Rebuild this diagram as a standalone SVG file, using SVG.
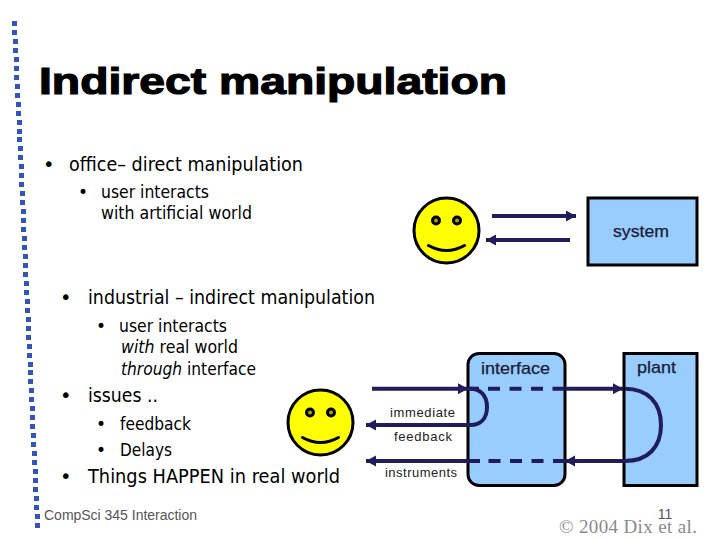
<svg xmlns="http://www.w3.org/2000/svg" width="720" height="540" viewBox="0 0 720 540">
<style>
text{font-family:"DejaVu Sans","Liberation Sans",sans-serif;fill:#000}
.t1{font-size:19.5px}
.t2{font-size:17px}
.lab{font-family:"Liberation Sans",Arial,sans-serif;fill:#1a1a33;stroke:#1a1a33;stroke-width:.25}
.small{font-family:"Liberation Sans",Arial,sans-serif;font-size:13px;fill:#222}
.box{fill:#99ccff;stroke:#000;stroke-width:3}
.face{fill:#ffff00;stroke:#000;stroke-width:3}
.eye{fill:#b0a000;stroke:#000;stroke-width:3}
.smile{fill:none;stroke:#000;stroke-width:3;stroke-linecap:round}
.c{fill:none;stroke:#211c5c;stroke-width:4}
.d{stroke-dasharray:12 9.5}
.a{marker-end:url(#ah)}
</style>
<defs>
<marker id="ah" markerUnits="userSpaceOnUse" markerWidth="12" markerHeight="12" refX="10" refY="5.5" orient="auto"><path d="M0 0L10 5.5L0 11Z" fill="#211c5c"/></marker>
<g id="smiley"><circle class="face" r="32.5"/><circle class="eye" cx="-10.500" cy="-10" r="3.500"/><circle class="eye" cx="10.500" cy="-10" r="3.500"/><path class="smile" d="M-18 15Q0 25 18 15"/></g>
</defs>
<rect width="720" height="540" fill="#fff"/>
<path fill="#3355bb" d="M12 21h5v5h-5zM12 30h5v5h-5zM13 39h5v5h-5zM13 48h5v5h-5zM14 57h5v5h-5zM14 66h5v5h-5zM14 75h5v5h-5zM15 84h5v5h-5zM15 93h5v5h-5zM16 102h5v5h-5zM16 111h5v5h-5zM17 120h5v5h-5zM17 129h5v5h-5zM17 137h5v5h-5zM18 146h5v5h-5zM18 155h5v5h-5zM19 164h5v5h-5zM19 173h5v5h-5zM19 182h5v5h-5zM20 191h5v5h-5zM20 200h5v5h-5zM21 209h5v5h-5zM21 218h5v5h-5zM21 227h5v5h-5zM22 236h5v5h-5zM22 245h5v5h-5zM23 254h5v5h-5zM23 263h5v5h-5zM23 272h5v5h-5zM24 281h5v5h-5zM24 290h5v5h-5zM25 299h5v5h-5zM25 308h5v5h-5zM26 317h5v5h-5zM26 326h5v5h-5zM26 335h5v5h-5zM27 344h5v5h-5zM27 353h5v5h-5zM28 362h5v5h-5zM28 370h5v5h-5zM28 379h5v5h-5zM29 388h5v5h-5zM29 397h5v5h-5zM30 406h5v5h-5zM30 415h5v5h-5zM30 424h5v5h-5zM31 433h5v5h-5zM31 442h5v5h-5zM32 451h5v5h-5zM32 460h5v5h-5zM33 469h5v5h-5zM33 478h5v5h-5zM33 487h5v5h-5zM34 496h5v5h-5zM34 505h5v5h-5zM35 514h5v5h-5zM35 523h5v5h-5z"/>
<text x="39" y="94" font-size="37" font-weight="bold" stroke="#000" stroke-width="1.200" textLength="468" lengthAdjust="spacingAndGlyphs" style="font-family:'Liberation Sans',Arial,sans-serif">Indirect manipulation</text>
<g id="bullets">
<text class="t1" x="43" y="171">•</text><text class="t1" x="69" y="171" textLength="234" lengthAdjust="spacingAndGlyphs">office– direct manipulation</text>
<text class="t2" x="78" y="198">•</text><text class="t2" x="101" y="198" textLength="108" lengthAdjust="spacingAndGlyphs">user interacts</text>
<text class="t2" x="101" y="219" textLength="151" lengthAdjust="spacingAndGlyphs">with artificial world</text>
<text class="t1" x="60" y="304">•</text><text class="t1" x="88" y="304" textLength="287" lengthAdjust="spacingAndGlyphs">industrial – indirect manipulation</text>
<text class="t2" x="96" y="332">•</text><text class="t2" x="119" y="332" textLength="108" lengthAdjust="spacingAndGlyphs">user interacts</text>
<text class="t2" x="121" y="353" textLength="117" lengthAdjust="spacingAndGlyphs"><tspan font-style="italic">with</tspan> real world</text>
<text class="t2" x="121" y="375" textLength="135" lengthAdjust="spacingAndGlyphs"><tspan font-style="italic">through</tspan> interface</text>
<text class="t1" x="60" y="402">•</text><text class="t1" x="88" y="402" textLength="70" lengthAdjust="spacingAndGlyphs">issues ..</text>
<text class="t2" x="96" y="430">•</text><text class="t2" x="120" y="430" textLength="71" lengthAdjust="spacingAndGlyphs">feedback</text>
<text class="t2" x="96" y="456">•</text><text class="t2" x="120" y="456" textLength="52" lengthAdjust="spacingAndGlyphs">Delays</text>
<text class="t1" x="60" y="483">•</text><text class="t1" x="88" y="483" textLength="252" lengthAdjust="spacingAndGlyphs">Things HAPPEN in real world</text>
</g>
<g id="user1"><use href="#smiley" x="446.500" y="230.500"/></g>
<g id="user2"><use href="#smiley" x="320.500" y="422.500"/></g>
<g id="system"><rect class="box" x="588" y="198" width="109" height="67"/><text class="lab" x="613" y="237" font-size="17" textLength="56" lengthAdjust="spacingAndGlyphs">system</text></g>
<g id="interface"><rect class="box" x="468" y="353.500" width="97" height="132" rx="11"/><text class="lab" x="481" y="374" font-size="17" textLength="69" lengthAdjust="spacingAndGlyphs">interface</text></g>
<g id="plant"><rect class="box" x="624" y="353.500" width="73" height="132"/><text class="lab" x="637" y="373" font-size="17" textLength="39" lengthAdjust="spacingAndGlyphs">plant</text></g>
<g id="connectors">
<path class="c a" d="M492 216H576"/>
<path class="c a" d="M570 240H486"/>
<path class="c a" d="M372 388.700H468"/>
<path class="c" d="M468 388.700H479"/>
<path class="c d" d="M488 388.700H565"/>
<path class="c a" d="M565 388.700H623"/>
<path class="c" d="M470 388.700C481 388.700 487 396 487 407C487 418 481 425 470 425"/>
<path class="c a" d="M470 425H366"/>
<path class="c" d="M625 388.700C648 388.700 661 403 661 425C661 447 648 461 625 461"/>
<path class="c a" d="M625 461H565"/>
<path class="c d" d="M565 461H488"/>
<path class="c a" d="M480 461H366"/>
</g>
<g id="labels">
<text class="small" x="390" y="417" textLength="65" lengthAdjust="spacing">immediate</text>
<text class="small" x="394" y="441" textLength="58" lengthAdjust="spacing">feedback</text>
<text class="small" x="385" y="477" textLength="72" lengthAdjust="spacing">instruments</text>
</g>
<text x="44" y="520" font-size="14" textLength="153" style="font-family:'Liberation Sans',Arial,sans-serif;fill:#555">CompSci 345 Interaction</text>
<text x="665" y="519" font-size="14" text-anchor="middle" style="font-family:'Liberation Sans',Arial,sans-serif;fill:#555">11</text>
<text x="559" y="533" font-size="19" textLength="138" style="font-family:'Liberation Serif',serif;fill:#8a8a8a">© 2004 Dix et al.</text>
</svg>
